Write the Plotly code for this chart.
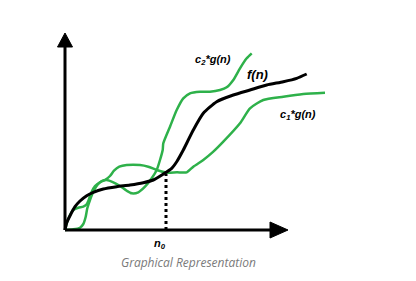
import plotly.graph_objects as go

# Values (x = n, y = value), origin at the axes' corner
f_x = [0, 1.7, 5, 10, 15, 21.7, 28.3, 38.3, 51.7, 65, 78.3, 88.3, 98.3, 106.7, 111.7,
       118.3, 128.3, 138.3, 151.7, 168.3, 185, 201.7, 218.3, 231.7, 241.7]
f_y = [0, 7.3, 14.3, 23.3, 29, 34.3, 37.7, 41, 43.3, 45, 47.3, 50, 56, 61.7, 68.3,
       80, 100, 116.7, 128.3, 135, 140, 145, 148.3, 151.7, 156]

c1_x = [0, 2.3, 5, 8.3, 13.3, 18.3, 21.7, 24.3, 26.7, 30, 35, 40, 45, 49, 54.3, 61.7,
        75, 83.3, 91.7, 101.7, 112, 121.7, 128.3, 138.3, 148.3, 158.3, 175, 185, 198.3,
        218.3, 238.3, 260]
c1_y = [0, 8.3, 15, 20, 22.3, 23.3, 25.7, 31.7, 38.3, 44, 47.7, 50, 54, 59.3, 63.3, 65,
        65, 63.3, 60, 57.3, 57.7, 57.7, 63.3, 70, 78.3, 88.3, 106.7, 121.7, 130, 133.3,
        136, 137.3]

c2_x = [0, 8.3, 15, 18.3, 20.7, 22.3, 25, 28.3, 32.3, 36.7, 41.7, 48.3, 55, 61.7, 66.7,
        73.3, 80, 86.7, 91.7, 95, 97.7, 98.3, 105, 111.7, 118.3, 125, 135, 145, 155,
        161.7, 168.3, 175, 181.7, 186.7]
c2_y = [0, 0.7, 2.3, 6, 13.3, 21.7, 30, 38.3, 45, 49, 50, 47.7, 44, 39.3, 36.7, 37.7,
        43.3, 51.7, 60, 70, 80, 86.7, 103.3, 120, 131.7, 136.7, 138.3, 138.3, 140, 142.7,
        150, 161.7, 171.7, 176.7]

n0 = 101
n0_top = 58

x_axis_end = 205
y_axis_end = 183

labels = ["<b><i>c<sub>2</sub>*g(n)</i></b>", "<b><i>f(n)</i></b>", "<b><i>c<sub>1</sub>*g(n)</i></b>"]
label_x = [148, 192, 233]
label_y = [170, 156, 115]
label_size = [11, 13, 11]

caption = "Graphical Representation"

GREEN = "#2eb14a"

fig = go.Figure()
fig.add_trace(go.Scatter(x=[n0, n0], y=[0, n0_top], mode="lines",
                         line=dict(color="black", width=3, dash="3px,3px"), hoverinfo="skip"))
fig.add_trace(go.Scatter(x=c1_x, y=c1_y, mode="lines",
                         line=dict(color=GREEN, width=2.5, shape="spline", smoothing=0.6), hoverinfo="skip"))
fig.add_trace(go.Scatter(x=c2_x, y=c2_y, mode="lines",
                         line=dict(color=GREEN, width=2.5, shape="spline", smoothing=0.6), hoverinfo="skip"))
fig.add_trace(go.Scatter(x=f_x, y=f_y, mode="lines",
                         line=dict(color="black", width=3, shape="spline", smoothing=0.6), hoverinfo="skip"))

# axes with arrowheads
fig.add_shape(type="line", x0=0, y0=0, x1=x_axis_end, y1=0, line=dict(color="black", width=3), layer="above")
fig.add_shape(type="line", x0=0, y0=0, x1=0, y1=y_axis_end, line=dict(color="black", width=3), layer="above")
fig.add_shape(type="path", path=f"M {x_axis_end} 8 L {x_axis_end + 18} 0 L {x_axis_end} -8 Z",
              fillcolor="black", line=dict(color="black", width=1), layer="above")
fig.add_shape(type="path", path=f"M -7.5 {y_axis_end} L 0 {y_axis_end + 14} L 7.5 {y_axis_end} Z",
              fillcolor="black", line=dict(color="black", width=1), layer="above")

for t, x, y, s in zip(labels, label_x, label_y, label_size):
    fig.add_annotation(x=x, y=y, text=t, showarrow=False,
                       font=dict(family="Liberation Sans", size=s, color="black"))

fig.add_annotation(x=n0 - 6, y=-14, text="<b><i>n<sub>0</sub></i></b>", showarrow=False,
                   font=dict(family="Liberation Sans", size=11, color="black"))
fig.add_annotation(x=123, y=-32, text=f"<i>{caption}</i>", showarrow=False,
                   font=dict(family="Open Sans", size=12, color="#7a7a7a"))

fig.update_layout(
    width=416, height=281,
    margin=dict(l=0, r=0, t=0, b=0),
    paper_bgcolor="white", plot_bgcolor="white",
    showlegend=False,
    xaxis=dict(range=[-65, 351], visible=False, fixedrange=True),
    yaxis=dict(range=[-51, 230], visible=False, fixedrange=True),
)

fig.write_html("out.html", config={"displayModeBar": False})
